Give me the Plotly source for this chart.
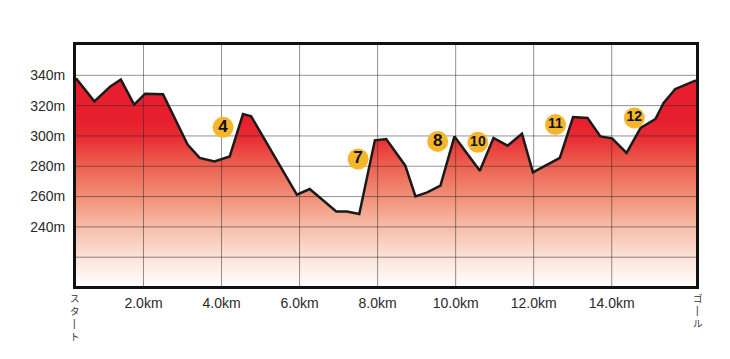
import plotly.graph_objects as go

# ---- data ----
distance_km = [0.27, 0.74, 1.15, 1.42, 1.76, 2.04, 2.50, 3.13, 3.44, 3.82, 4.21, 4.55, 4.76,
               5.93, 6.26, 6.94, 7.21, 7.53, 7.93, 8.22, 8.71, 8.97, 9.27, 9.61, 9.97,
               10.62, 10.97, 11.33, 11.70, 11.98, 12.67, 13.01, 13.38, 13.71, 14.01, 14.38,
               14.74, 15.12, 15.33, 15.63, 16.16]
elevation_m = [338, 322.8, 332.7, 337.2, 320.7, 327.9, 327.5, 294.3, 285.5, 283.2, 286.5, 314.5, 312.9,
               261.3, 265.0, 250.2, 250.2, 248.5, 297.1, 298.0, 280.4, 260.1, 262.8, 267.2, 299.7,
               277.1, 298.7, 293.6, 301.5, 276.0, 285.5, 312.5, 311.9, 299.7, 298.4, 288.8,
               305.3, 311.2, 321.8, 331.0, 336.6]

marker_labels = ["4", "7", "8", "10", "11", "12"]
marker_km = [4.04, 7.50, 9.54, 10.57, 12.56, 14.58]
marker_elev = [305.7, 284.8, 296.4, 295.8, 307.5, 311.9]

x_tick_vals = [2, 4, 6, 8, 10, 12, 14]
x_tick_text = ["2.0km", "4.0km", "6.0km", "8.0km", "10.0km", "12.0km", "14.0km"]
y_grid_vals = [220, 240, 260, 280, 300, 320, 340]
y_tick_vals = [240, 260, 280, 300, 320, 340]
y_tick_text = ["240m", "260m", "280m", "300m", "320m", "340m"]
y_range = [201, 360]
start_label = ["ス", "タ", "|", "ト"]   # vertical スタート (long-vowel mark shown as a bar)
goal_label = ["ゴ", "|", "ル"]         # vertical ゴール

x_range = [distance_km[0], distance_km[-1]]

fig = go.Figure()

# gradient fill
fig.add_trace(go.Scatter(
    x=distance_km, y=elevation_m, mode="lines", line=dict(width=0),
    fill="tozeroy",
    fillgradient=dict(
        type="vertical", start=200, stop=312,
        colorscale=[[0.0, "rgb(255,255,255)"], [0.18, "rgb(251,226,216)"],
                    [0.36, "rgb(246,188,168)"], [0.54, "rgb(241,142,118)"],
                    [0.72, "rgb(236,96,80)"], [0.89, "rgb(232,42,50)"],
                    [1.0, "rgb(230,30,45)"]]),
    hoverinfo="skip", showlegend=False))

# grid lines drawn over the fill
gx, gy = [], []
for v in x_tick_vals:
    gx += [v, v, None]
    gy += [y_range[0], y_range[1], None]
for v in y_grid_vals:
    gx += [x_range[0], x_range[1], None]
    gy += [v, v, None]
fig.add_trace(go.Scatter(x=gx, y=gy, mode="lines",
                         line=dict(color="rgba(40,40,40,0.5)", width=1),
                         hoverinfo="skip", showlegend=False))

# profile outline
fig.add_trace(go.Scatter(x=distance_km, y=elevation_m, mode="lines",
                         line=dict(color="#1a1a1a", width=2.5),
                         hoverinfo="skip", showlegend=False))

# numbered markers
fig.add_trace(go.Scatter(
    x=marker_km, y=marker_elev, mode="markers+text",
    marker=dict(size=21, color="#F6B62C", line=dict(width=0)),
    text=marker_labels, textposition="middle center",
    textfont=dict(family="Liberation Sans", size=[17 if len(t) == 1 else 14 for t in marker_labels],
                  color="#111111", weight="bold"),
    hoverinfo="skip", showlegend=False))

pitch = 12.6


def char_font(ch):
    if ch == "|":
        return dict(family="Liberation Sans", size=10, color="#333333")
    return dict(family="Noto Sans CJK JP", size=9.5, color="#333333")


for i, ch in enumerate(start_label):
    fig.add_annotation(x=0, xref="paper", y=0, yref="paper", text=ch, showarrow=False,
                       xanchor="center", yanchor="middle", xshift=-1.5, yshift=-12 - i * pitch,
                       borderpad=0, font=char_font(ch))
for i, ch in enumerate(goal_label):
    fig.add_annotation(x=1, xref="paper", y=0, yref="paper", text=ch, showarrow=False,
                       xanchor="center", yanchor="middle", xshift=1.5, yshift=-12 - i * pitch,
                       borderpad=0, font=char_font(ch))

# page body has an 8px default margin, margins compensate for it
fig.update_layout(
    width=722, height=351,
    margin=dict(l=68, r=34, t=37, b=73, autoexpand=False),
    paper_bgcolor="white", plot_bgcolor="white",
    font=dict(family="Liberation Sans", size=14, color="#2a2a2a"),
    xaxis=dict(range=x_range, tickvals=x_tick_vals, ticktext=x_tick_text, showgrid=False,
               zeroline=False, showline=True, mirror=True, linecolor="#111111", linewidth=3,
               ticks="", ticklabelstandoff=2),
    yaxis=dict(range=y_range, tickvals=y_tick_vals, ticktext=y_tick_text, showgrid=False,
               zeroline=False, showline=True, mirror=True, linecolor="#111111", linewidth=3,
               ticks="", ticklabelstandoff=5),
)

fig.write_html("out.html")
